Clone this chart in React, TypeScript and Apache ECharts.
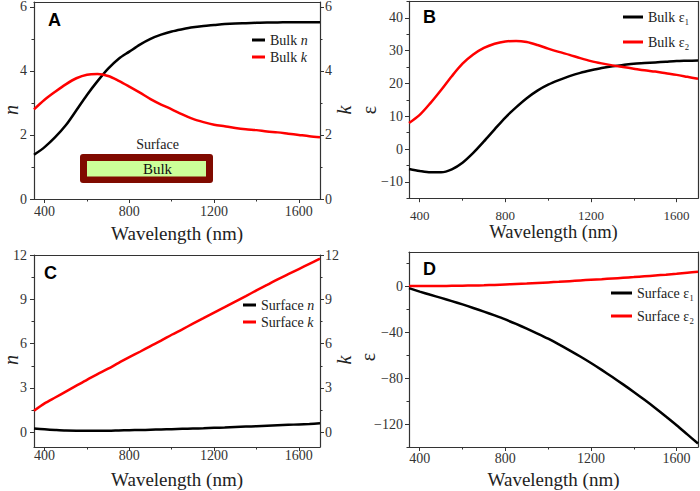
import React, { useEffect, useRef } from "react";
import * as echarts from "echarts";

// ---- data ----
const WL = [350, 400, 450, 500, 550, 600, 650, 700, 750, 800, 850, 900, 950, 1000, 1050, 1100, 1150, 1200, 1250, 1300, 1350, 1400, 1450, 1500, 1550, 1600, 1650, 1700];

const bulkN = [1.38, 1.62, 1.93, 2.3, 2.77, 3.25, 3.68, 4.07, 4.38, 4.6, 4.82, 5.0, 5.13, 5.23, 5.3, 5.36, 5.4, 5.43, 5.46, 5.48, 5.49, 5.5, 5.51, 5.51, 5.52, 5.52, 5.52, 5.52];
const bulkK = [2.8, 3.1, 3.35, 3.58, 3.77, 3.88, 3.9, 3.84, 3.69, 3.51, 3.32, 3.12, 2.95, 2.8, 2.64, 2.5, 2.4, 2.32, 2.27, 2.22, 2.18, 2.15, 2.11, 2.08, 2.04, 2.0, 1.96, 1.93];

const bulkE1 = [-6.1, -6.7, -7.1, -7.1, -6.2, -4.2, -1.2, 2.3, 6.0, 9.6, 12.7, 15.5, 17.8, 19.6, 21.0, 22.2, 23.2, 24.0, 24.7, 25.2, 25.6, 26.0, 26.2, 26.4, 26.6, 26.8, 26.9, 27.0];
const bulkE2 = [7.9, 10.4, 14.0, 18.0, 22.2, 26.0, 28.8, 30.8, 32.1, 32.8, 32.95, 32.6, 31.7, 30.6, 29.6, 28.7, 27.7, 26.8, 26.1, 25.5, 25.0, 24.5, 24.0, 23.6, 23.1, 22.6, 22.0, 21.4];

const surfN = [0.25, 0.2, 0.15, 0.11, 0.1, 0.1, 0.1, 0.1, 0.12, 0.14, 0.15, 0.17, 0.19, 0.21, 0.23, 0.25, 0.27, 0.3, 0.32, 0.35, 0.38, 0.41, 0.44, 0.47, 0.5, 0.53, 0.56, 0.6];
const surfK = [1.45, 1.95, 2.35, 2.75, 3.15, 3.55, 3.93, 4.3, 4.7, 5.08, 5.45, 5.83, 6.2, 6.6, 6.97, 7.35, 7.72, 8.1, 8.47, 8.85, 9.22, 9.6, 9.97, 10.35, 10.7, 11.05, 11.4, 11.75];

const surfE1 = [-1.5, -4.5, -7.3, -10, -12.8, -15.7, -18.8, -22, -25.3, -28.8, -32.7, -36.8, -41.1, -45.6, -50.5, -55.7, -61.1, -66.8, -72.8, -79, -85.4, -92, -98.9, -106, -113.4, -121, -129, -137];
const surfE2 = [0.3, 0.3, 0.35, 0.4, 0.5, 0.6, 0.8, 1.0, 1.3, 1.7, 2.1, 2.5, 3.0, 3.5, 4.0, 4.6, 5.2, 5.8, 6.3, 6.9, 7.5, 8.1, 8.8, 9.5, 10.2, 11.0, 11.9, 12.8];

const xTicks = [400, 800, 1200, 1600];
const xMinor = [600, 1000, 1400];
const aTicks = [0, 2, 4, 6];
const aMinor = [1, 3, 5];
const bTicks = [-10, 0, 10, 20, 30, 40];
const bMinor = [-15, -5, 5, 15, 25, 35, 45];
const cTicks = [0, 3, 6, 9, 12];
const cMinor = [1.5, 4.5, 7.5, 10.5];
const dTicks = [-120, -80, -40, 0];
const dMinor = [-140, -100, -60, -20, 20];
const X_TITLE = "Wavelength (nm)";

const SERIF = "Liberation Serif";
const SANS = "Liberation Sans";
const AX = "#333";
const X_MIN = 350;
const X_MAX = 1700;

const grids = [
  { left: 34, top: 2, width: 286, height: 197 },
  { left: 409, top: 1.4, width: 289, height: 196.8 },
  { left: 34, top: 255, width: 286, height: 192 },
  { left: 409, top: 252, width: 289, height: 195 },
];

// label offsets (px) below the x axis line, x-title offset, left/right label gaps
const panelStyle = [
  { xLab: 12.5, xTitle: 34, yGap: 7, rGap: 5 },
  { xLab: 17.5, xTitle: 33.5, yGap: 6, rGap: 5 },
  { xLab: 8, xTitle: 32.5, yGap: 7, rGap: 5 },
  { xLab: 11.5, xTitle: 32.5, yGap: 6, rGap: 5 },
];

const yRanges = [
  { min: 0, max: 6.15, ticks: aTicks, minor: aMinor, right: true },
  { min: -15, max: 45, ticks: bTicks, minor: bMinor, right: false },
  { min: -1, max: 12, ticks: cTicks, minor: cMinor, right: true },
  { min: -140, max: 30, ticks: dTicks, minor: dMinor, right: false },
];

const fmt = (v: number) => String(v).replace("-", "\u2212");

const mainX: number[] = [];
const mainY: number[] = [];
const rightY: number[] = [];

function buildOption() {
  const xAxis: any[] = [];
  const yAxis: any[] = [];
  mainX.length = 0; mainY.length = 0; rightY.length = 0;
  grids.forEach((_, g) => {
    mainX.push(xAxis.length);
    xAxis.push({
      type: "value", gridIndex: g, position: "bottom", min: X_MIN, max: X_MAX,
      axisLine: { show: true, onZero: false, lineStyle: { color: AX, width: 1.2 } },
      axisTick: { show: true, inside: false, length: 4, customValues: xTicks, lineStyle: { color: AX } },
      axisLabel: { show: false, customValues: xTicks },
      splitLine: { show: false },
    });
    xAxis.push({
      type: "value", gridIndex: g, position: "bottom", min: X_MIN, max: X_MAX,
      axisLine: { show: false, onZero: false },
      axisTick: { show: true, length: 2.5, customValues: xMinor, lineStyle: { color: AX } },
      axisLabel: { show: false }, splitLine: { show: false },
    });
    xAxis.push({
      type: "value", gridIndex: g, position: "top", min: X_MIN, max: X_MAX,
      axisLine: { show: true, onZero: false, lineStyle: { color: AX, width: 1.2 } },
      axisTick: { show: false }, axisLabel: { show: false }, splitLine: { show: false },
    });
    const r = yRanges[g];
    mainY.push(yAxis.length);
    yAxis.push({
      type: "value", gridIndex: g, position: "left", min: r.min, max: r.max,
      axisLine: { show: true, onZero: false, lineStyle: { color: AX, width: 1.2 } },
      axisTick: { show: true, length: 4, customValues: r.ticks, lineStyle: { color: AX } },
      axisLabel: { show: false, customValues: r.ticks },
      splitLine: { show: false },
    });
    yAxis.push({
      type: "value", gridIndex: g, position: "left", min: r.min, max: r.max,
      axisLine: { show: false, onZero: false },
      axisTick: { show: true, length: 2.5, customValues: r.minor, lineStyle: { color: AX } },
      axisLabel: { show: false }, splitLine: { show: false },
    });
    rightY.push(yAxis.length);
    yAxis.push({
      type: "value", gridIndex: g, position: "right", min: r.min, max: r.max,
      axisLine: { show: true, onZero: false, lineStyle: { color: AX, width: 1.2 } },
      axisTick: { show: r.right, length: 4, customValues: r.ticks, lineStyle: { color: AX } },
      axisLabel: { show: false, customValues: r.ticks },
      splitLine: { show: false },
    });
    if (r.right) {
      yAxis.push({
        type: "value", gridIndex: g, position: "right", min: r.min, max: r.max,
        axisLine: { show: false, onZero: false },
        axisTick: { show: true, length: 2.5, customValues: r.minor, lineStyle: { color: AX } },
        axisLabel: { show: false }, splitLine: { show: false },
      });
    }
  });

  const mk = (name: string, vals: number[], g: number, color: string, right: boolean) => ({
    type: "line", name, xAxisIndex: mainX[g], yAxisIndex: right ? rightY[g] : mainY[g],
    data: WL.map((w, i) => [w, vals[i]]), showSymbol: false, symbol: "none", smooth: 0.3,
    lineStyle: { color, width: 2.5 }, itemStyle: { color }, clip: true,
  });

  const series = [
    mk("Bulk n", bulkN, 0, "#000", false),
    mk("Bulk k", bulkK, 0, "#ff0000", true),
    mk("Bulk ε₁", bulkE1, 1, "#000", false),
    mk("Bulk ε₂", bulkE2, 1, "#ff0000", false),
    mk("Surface n", surfN, 2, "#000", false),
    mk("Surface k", surfK, 2, "#ff0000", true),
    mk("Surface ε₁", surfE1, 3, "#000", false),
    mk("Surface ε₂", surfE2, 3, "#ff0000", false),
  ];

  const legendBase = (data: string[], left: number, top: number, w: number, gap: number) => ({
    data, left, top, padding: 0, orient: "vertical", icon: "rect", itemWidth: w, itemHeight: 3, itemGap: gap,
    selectedMode: false,
    formatter: (n: string) => n.replace(/ (n|k)$/, " {i|$1}"),
    textStyle: {
      fontFamily: SERIF, fontSize: 14, lineHeight: 14, color: "#222",
      rich: { i: { fontFamily: SERIF, fontSize: 14, fontStyle: "italic", color: "#222" } },
    },
  });

  const legend = [
    legendBase(["Bulk n", "Bulk k"], 252, 33, 13, 3),
    legendBase(["Bulk ε₁", "Bulk ε₂"], 623, 10, 20, 11),
    legendBase(["Surface n", "Surface k"], 243, 298, 13, 3),
    legendBase(["Surface ε₁", "Surface ε₂"], 611, 286, 21, 9),
  ];

  return {
    animation: false,
    backgroundColor: "#fff",
    grid: grids,
    xAxis, yAxis, series, legend,
  };
}

function staticGraphics() {
  const letter = (t: string, x: number, y: number) => ({
    type: "text", left: x, top: y, z: 100,
    style: { text: t, fontFamily: SANS, fontWeight: "bold", fontSize: 18, fill: "#000" },
  });
  const ytitle = (t: string, x: number, y: number, italic: boolean) => ({
    type: "text", x, y, rotation: Math.PI / 2, z: 100,
    style: { text: t, fontFamily: SERIF, fontSize: 20, fontStyle: italic ? "italic" : "normal", fill: "#222", align: "center", verticalAlign: "middle" },
  });
  return [
    letter("A", 48, 11),
    letter("B", 423, 8),
    letter("C", 44, 264),
    letter("D", 423, 260),
    ytitle("n", 11, 110, true),
    ytitle("k", 344, 110, true),
    ytitle("ε", 369, 110, false),
    ytitle("n", 11, 360, true),
    ytitle("k", 344, 360, true),
    ytitle("ε", 368, 357, false),
    { type: "rect", shape: { x: 80, y: 154, width: 133, height: 29, r: 3 }, style: { fill: "#800a00" }, z: 50 },
    { type: "rect", shape: { x: 87, y: 161, width: 119, height: 15.5 }, style: { fill: "#ccff99" }, z: 51 },
    { type: "text", x: 157.5, y: 169, z: 52, style: { text: "Bulk", fontFamily: SERIF, fontSize: 15, fill: "#111", align: "center", verticalAlign: "middle" } },
    { type: "text", x: 157.5, y: 144, z: 52, style: { text: "Surface", fontFamily: SERIF, fontSize: 14, fill: "#222", align: "center", verticalAlign: "middle" } },
  ];
}

// tick labels & x titles, positioned through the axes' own scales
function axisTextGraphics(chart: any) {
  const out: any[] = [];
  const txt = (text: string, x: number, y: number, align: string, size = 14, color = "#333") => ({
    type: "text", x, y, z: 100,
    style: { text, fontFamily: SERIF, fontSize: size, fill: color, align, verticalAlign: "middle" },
  });
  grids.forEach((_, g) => {
    const r = yRanges[g];
    const ps = panelStyle[g];
    const xi = { xAxisIndex: mainX[g] };
    const yi = { yAxisIndex: mainY[g] };
    const bottom = chart.convertToPixel(yi, r.min);
    const left = chart.convertToPixel(xi, X_MIN);
    const right = chart.convertToPixel(xi, X_MAX);
    const xs = g === 1 ? 13 : 14;
    const ts = g === 1 ? 18.5 : 19;
    xTicks.forEach((v) => out.push(txt(fmt(v), chart.convertToPixel(xi, v), bottom + ps.xLab, "center", xs)));
    out.push(txt(X_TITLE, (left + right) / 2, bottom + ps.xTitle, "center", ts, "#222"));
    r.ticks.forEach((v) => {
      const y = chart.convertToPixel(yi, v);
      out.push(txt(fmt(v), left - ps.yGap, y, "right"));
      if (r.right) out.push(txt(fmt(v), right + ps.rGap, y, "left"));
    });
  });
  return out;
}

export default function App() {
  const ref = useRef<HTMLDivElement>(null);
  useEffect(() => {
    if (!ref.current) return;
    const chart = echarts.init(ref.current, undefined, { renderer: "svg" });
    chart.setOption(buildOption() as any);
    chart.setOption({ graphic: [...staticGraphics(), ...axisTextGraphics(chart)] } as any);
    return () => chart.dispose();
  }, []);
  return <div ref={ref} style={{ position: "fixed", left: 0, top: 0, width: 700, height: 491 }} />;
}
